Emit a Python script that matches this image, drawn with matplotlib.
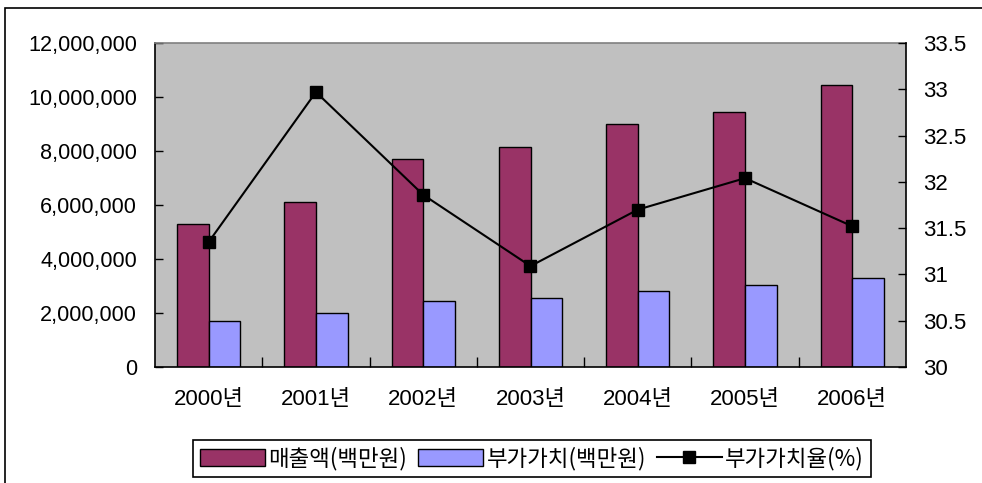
import numpy as np
import matplotlib
matplotlib.use("Agg")
import matplotlib.pyplot as plt
from matplotlib.patches import Patch, Rectangle
from matplotlib.lines import Line2D
from matplotlib.ticker import FuncFormatter, MultipleLocator

years = ["2000년", "2001년", "2002년", "2003년", "2004년", "2005년", "2006년"]
sales = [5300000, 6100000, 7700000, 8150000, 9000000, 9440000, 10440000]
value_added = [1700000, 2000000, 2440000, 2560000, 2810000, 3040000, 3300000]
va_rate = [31.35, 32.97, 31.86, 31.09, 31.70, 32.04, 31.52]
labels = ["매출액(백만원)", "부가가치(백만원)", "부가가치율(%)"]

W, H = 982, 483
FONT = ["Liberation Sans", "Noto Sans CJK KR"]
plt.rcParams["font.family"] = FONT


def fx(px):
    return px / W


def fy(py):
    return 1 - py / H


def main():
    fig = plt.figure(figsize=(W / 100, H / 100), dpi=100)

    # outer chart frame (cropped on right/bottom)
    fig.patches.append(Rectangle((fx(5), fy(490)), fx(990) - fx(5), fy(8) - fy(490),
                                 transform=fig.transFigure, fill=False,
                                 edgecolor="black", linewidth=1.2))

    left, right, top, bottom = 155, 906, 43, 367
    ax = fig.add_axes([fx(left), fy(bottom), fx(right - left), fy(top) - fy(bottom)])
    ax.set_facecolor("#C0C0C0")

    x = np.arange(len(years))
    w = 0.295
    ax.bar(x - w / 2, sales, w, color="#993366", edgecolor="black", linewidth=1.0, zorder=2)
    ax.bar(x + w / 2, value_added, w, color="#9999FF", edgecolor="black", linewidth=1.0, zorder=2)

    ax.set_xlim(-0.5, len(years) - 0.5)
    ax.set_ylim(0, 12000000)
    ax.yaxis.set_major_locator(MultipleLocator(2000000))
    ax.yaxis.set_major_formatter(FuncFormatter(lambda v, p: f"{int(v):,}"))
    ax.set_xticks(x)
    ax.set_xticklabels(years)
    ax.set_xticks(np.arange(0.5, len(years) - 0.5, 1), minor=True)
    ax.tick_params(axis="x", which="major", length=0, pad=16, labelsize=16)
    ax.tick_params(axis="x", which="minor", direction="in", length=7, width=1)
    ax.tick_params(axis="y", direction="in", length=6, width=1, labelsize=15.6, pad=13)

    for s in ["left", "bottom"]:
        ax.spines[s].set_color("black")
        ax.spines[s].set_linewidth(1.2)
    ax.spines["top"].set_color("#808080")
    ax.spines["top"].set_linewidth(1.2)
    ax.spines["right"].set_visible(False)

    ax2 = ax.twinx()
    ax2.plot(x, va_rate, color="black", linewidth=1.5, marker="s", markersize=9,
             markerfacecolor="black", markeredgecolor="black", zorder=5)
    ax2.set_ylim(30, 33.5)
    ax2.yaxis.set_major_locator(MultipleLocator(0.5))
    ax2.yaxis.set_major_formatter(FuncFormatter(lambda v, p: f"{v:g}"))
    ax2.tick_params(axis="y", direction="in", length=6, width=1, labelsize=16, pad=12)
    for s in ["left", "top", "bottom"]:
        ax2.spines[s].set_visible(False)
    ax2.spines["right"].set_color("black")
    ax2.spines["right"].set_linewidth(1.2)

    handles = [
        Patch(facecolor="#993366", edgecolor="black", linewidth=1.0),
        Patch(facecolor="#9999FF", edgecolor="black", linewidth=1.0),
        Line2D([0], [0], color="black", linewidth=1.5, marker="s", markersize=8),
    ]
    leg = fig.legend(handles, labels, loc="center", ncol=3,
                     bbox_to_anchor=(fx((194 + 870) / 2), fy((437 + 480) / 2)),
                     frameon=True, fancybox=False, edgecolor="black", framealpha=1,
                     fontsize=16.1, handlelength=2.9, handleheight=0.75, handletextpad=0.15,
                     columnspacing=0.5, borderpad=0.3, borderaxespad=0)
    leg.get_frame().set_linewidth(1.2)
    for t in leg.get_texts():
        t.set_fontfamily(["Noto Sans CJK KR", "Liberation Sans"])

    fig.savefig("out.png", dpi=100, facecolor="white")


if __name__ == "__main__":
    main()
